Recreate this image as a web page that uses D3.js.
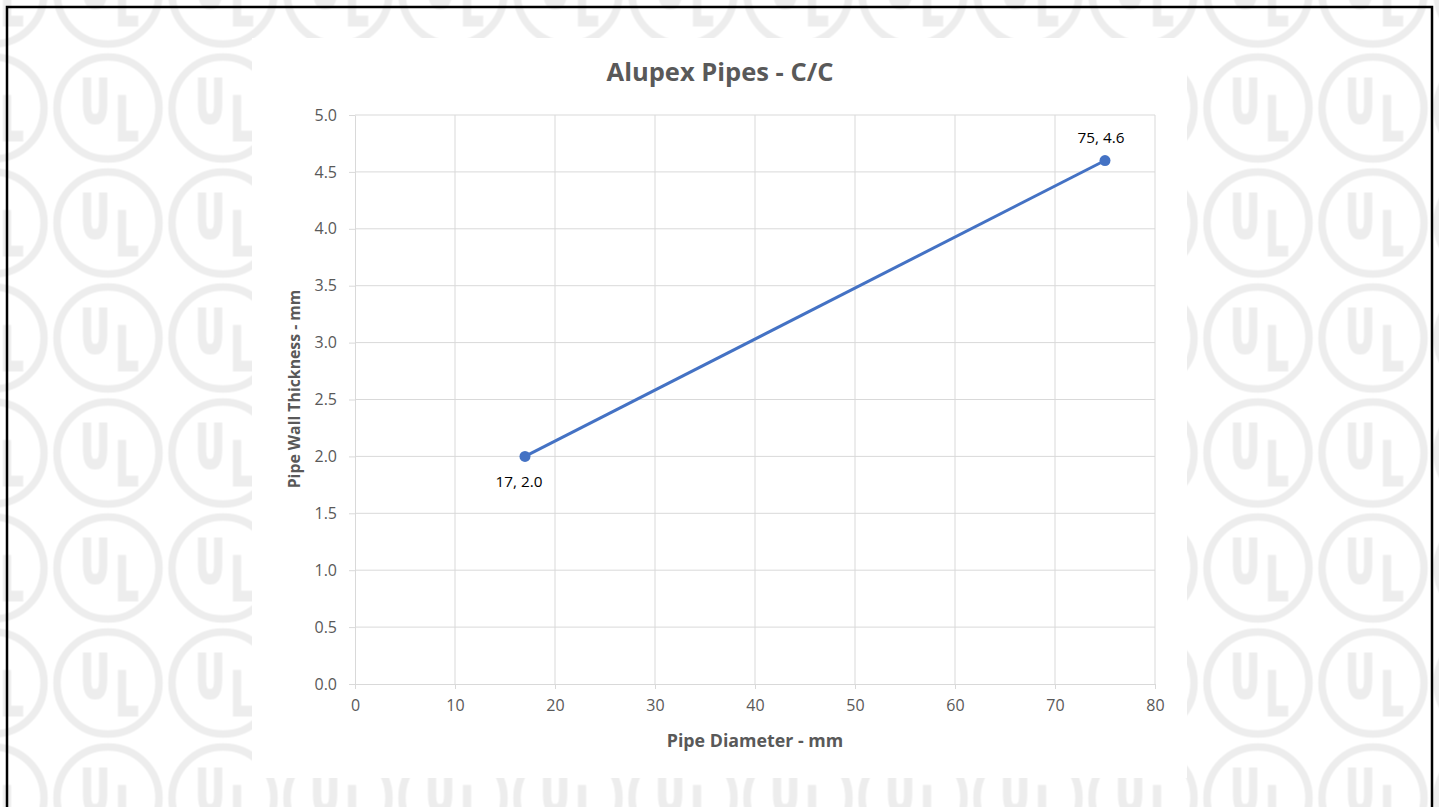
<!DOCTYPE html>
<html>
<head>
<meta charset="utf-8">
<script src="https://cdn.jsdelivr.net/npm/d3@7"></script>
<style>
  html, body { margin: 0; padding: 0; background: #fff; overflow: hidden; }
  svg { display: block; font-family: "Open Sans", "Noto Sans", sans-serif; }
</style>
</head>
<body>
<svg id="chart" width="1439" height="807"></svg>
<script>
// data
const diameters = [17, 75];
const thickness = [2.0, 4.6];
const xTicks = [0, 10, 20, 30, 40, 50, 60, 70, 80];
const yTicks = [0, 0.5, 1.0, 1.5, 2.0, 2.5, 3.0, 3.5, 4.0, 4.5, 5.0];
const chartTitle = 'Alupex Pipes - C/C';
const xTitle = 'Pipe Diameter - mm';
const yTitle = 'Pipe Wall Thickness - mm';

const points = diameters.map((d, i) => ({x: d, y: thickness[i]}));

const svg = d3.select('#chart');
const textColor = '#595959';
const gridColor = '#d9d9d9';
const lineColor = '#4472c4';
const markColor = '#ededed';

// watermark background (UL rings)
const defs = svg.append('defs');
const tile = 115;
const pat = defs.append('pattern')
  .attr('id', 'ul')
  .attr('patternUnits', 'userSpaceOnUse')
  .attr('width', tile).attr('height', tile)
  .attr('x', 108 - tile / 2).attr('y', 108 - tile / 2);
const c = tile / 2;
pat.append('circle')
  .attr('cx', c).attr('cy', c).attr('r', 51)
  .attr('fill', 'none').attr('stroke', markColor).attr('stroke-width', 7.5);
[['U', -13, 14], ['L', 19, 32]].forEach(([ch, dx, dy]) => {
  pat.append('text')
    .attr('transform', `translate(${c + dx},${c + dy}) scale(0.6,1)`)
    .attr('text-anchor', 'middle')
    .style('font-family', '"DejaVu Sans", sans-serif')
    .style('font-weight', 'bold').style('font-size', '61px')
    .attr('fill', markColor)
    .attr('stroke', markColor).attr('stroke-width', 2)
    .text(ch);
});

svg.append('rect')
  .attr('width', 1439).attr('height', 807)
  .attr('fill', 'url(#ul)');

// white chart area
svg.append('rect')
  .attr('x', 252).attr('y', 38)
  .attr('width', 935).attr('height', 740)
  .attr('fill', '#fff');

// outer black frame
svg.append('rect')
  .attr('x', 7).attr('y', 7)
  .attr('width', 1425).attr('height', 830)
  .attr('fill', 'none').attr('stroke', '#000').attr('stroke-width', 2.5);

const x = d3.scaleLinear().domain([0, 80]).range([355, 1155]);
const y = d3.scaleLinear().domain([0, 5]).range([684, 115]);

// gridlines
svg.append('g')
  .selectAll('line')
  .data(xTicks.slice(1))
  .join('line')
  .attr('x1', d => x(d)).attr('x2', d => x(d))
  .attr('y1', y(0)).attr('y2', y(5))
  .attr('stroke', gridColor).attr('stroke-width', 1);

svg.append('g')
  .selectAll('line')
  .data(yTicks.slice(1))
  .join('line')
  .attr('x1', x(0)).attr('x2', x(80))
  .attr('y1', d => y(d)).attr('y2', d => y(d))
  .attr('stroke', gridColor).attr('stroke-width', 1);

// axes
const xAxis = svg.append('g')
  .attr('transform', `translate(0,${y(0)})`)
  .call(d3.axisBottom(x).tickValues(xTicks).tickSizeInner(5).tickSizeOuter(0).tickPadding(11));
const yAxis = svg.append('g')
  .attr('transform', `translate(${x(0)},0)`)
  .call(d3.axisLeft(y).tickValues(yTicks).tickFormat(d3.format('.1f')).tickSizeInner(6).tickSizeOuter(0).tickPadding(12));

[xAxis, yAxis].forEach(g => {
  g.select('.domain').attr('stroke', gridColor);
  g.selectAll('.tick line').attr('stroke', gridColor);
  g.selectAll('.tick text')
    .attr('fill', textColor)
    .style('font-size', '16px')
    .style('font-family', '"Open Sans", sans-serif');
});

// title and axis titles
svg.append('text')
  .attr('x', 720).attr('y', 81)
  .attr('text-anchor', 'middle')
  .attr('fill', textColor)
  .style('font-size', '25.5px').style('font-weight', 'bold')
  .text(chartTitle);

svg.append('text')
  .attr('x', (x(0) + x(80)) / 2).attr('y', 747)
  .attr('text-anchor', 'middle')
  .attr('fill', textColor)
  .style('font-size', '17.8px').style('font-weight', 'bold')
  .text(xTitle);

svg.append('text')
  .attr('transform', 'translate(300,389) rotate(-90)')
  .attr('text-anchor', 'middle')
  .attr('fill', textColor)
  .style('font-size', '15.8px').style('font-weight', 'bold')
  .text(yTitle);

// series
svg.append('path')
  .datum(points)
  .attr('d', d3.line().x(d => x(d.x)).y(d => y(d.y)))
  .attr('fill', 'none')
  .attr('stroke', lineColor)
  .attr('stroke-width', 3);

svg.append('g')
  .selectAll('circle')
  .data(points)
  .join('circle')
  .attr('cx', d => x(d.x)).attr('cy', d => y(d.y))
  .attr('r', 5.5)
  .attr('fill', lineColor);

// data labels: first below, last above
svg.append('g')
  .selectAll('text')
  .data(points)
  .join('text')
  .attr('x', (d, i) => x(d.x) + (i === 0 ? -6 : -4))
  .attr('y', (d, i) => y(d.y) + (i === 0 ? 31 : -18))
  .attr('text-anchor', 'middle')
  .attr('fill', '#000')
  .style('font-size', '15.3px')
  .text(d => `${d.x}, ${d3.format('.1f')(d.y)}`);
</script>
</body>
</html>
